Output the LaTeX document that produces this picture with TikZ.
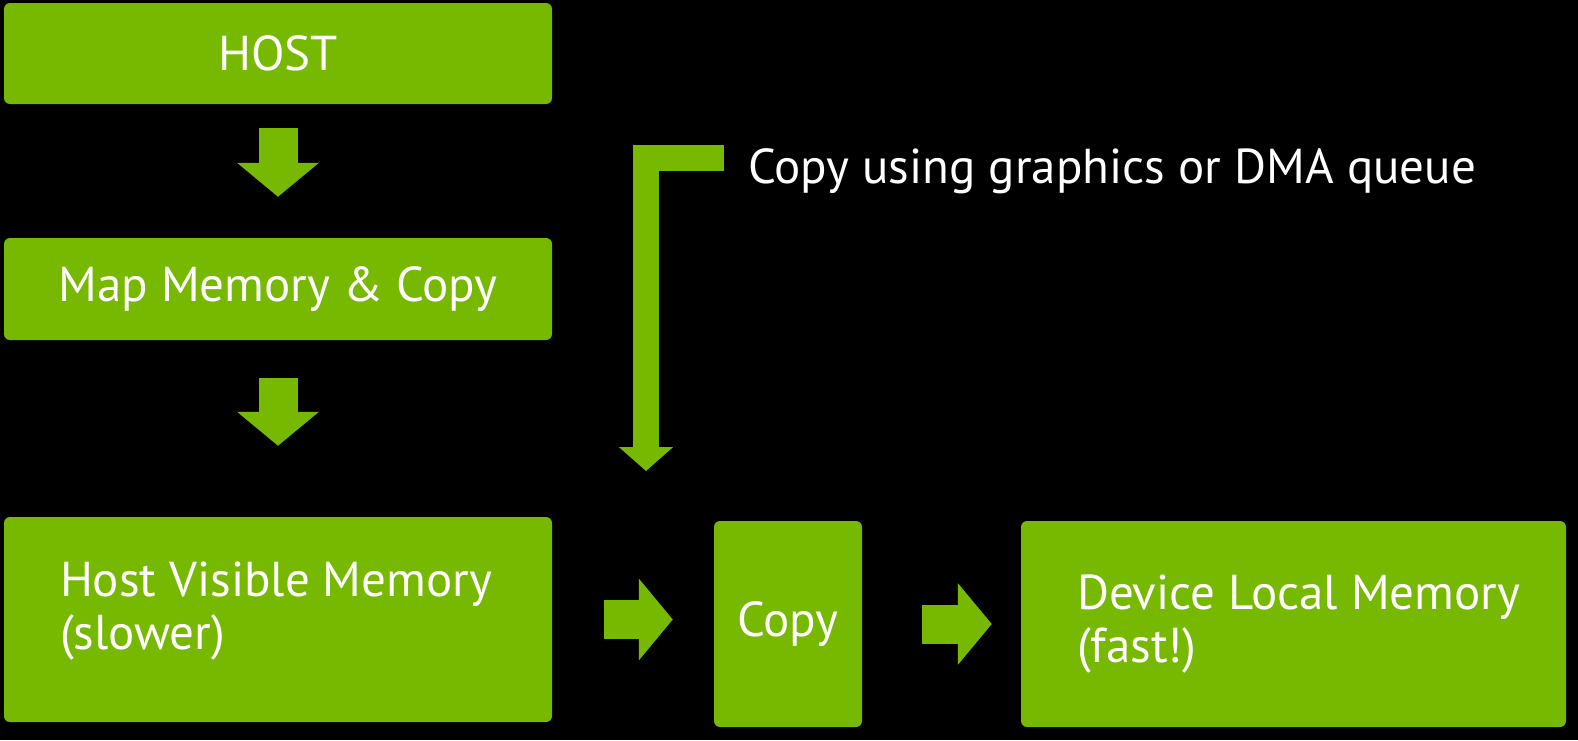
\documentclass[tikz,border=0pt]{standalone}
\usepackage{fontspec}
\setmainfont{PT Sans}
\usetikzlibrary{positioning,arrows.meta}
\definecolor{nvgreen}{HTML}{76B900}

\begin{document}
\begin{tikzpicture}[x=1pt,y=-1pt,
  box/.style={fill=nvgreen,rounded corners=6pt,text=white,font=\fontsize{49}{53}\selectfont,inner sep=0pt},
  boxtext/.style={text=white,font=\fontsize{49}{53}\selectfont,align=left,inner sep=0pt,anchor=west,xshift=56pt},
  fatarrow/.style={nvgreen,line width=39pt,-{Triangle[length=34pt,width=80pt]}},
  thinarrow/.style={nvgreen,line width=26pt,line join=miter,-{Triangle[length=24pt,width=53pt]}}]
\useasboundingbox (0,0) rectangle (1578,740);
\fill[black] (0,0) rectangle (1578,740);
\path (278,53.5) node[box,minimum width=548pt,minimum height=101pt] (host) {HOST}
(278,289) node[box,minimum width=548pt,minimum height=102pt] (map) {Map Memory \& Copy}
(278,619.5) node[box,minimum width=548pt,minimum height=205pt,
  label={[boxtext,yshift=8pt]west:Host Visible Memory\\(slower)}] (hvm) {}
(788,624) node[box,minimum width=148pt,minimum height=206pt] (copy) {Copy}
(1293.5,624) node[box,minimum width=545pt,minimum height=206pt,
  label={[boxtext]west:Device Local Memory\\(fast!)}] (dlm) {}
(748,183) node[anchor=base west,text=white,font=\fontsize{49}{53}\selectfont,inner sep=0pt] (query) {Copy using graphics or DMA queue};
\coordinate (qend) at (646,471);
% block arrows between the boxes
\draw[fatarrow] ([yshift=-24pt]host.south) -- ([yshift=41pt]map.north);
\draw[fatarrow] ([yshift=-38pt]map.south) -- ([yshift=71pt]hvm.north);
\draw[fatarrow] ([xshift=52pt]hvm.east) -- ([xshift=-41pt]copy.west |- hvm.east);
\draw[fatarrow] ([xshift=60pt]copy.east) -- ([xshift=-29pt]dlm.west);
\draw[thinarrow] ([xshift=-24pt,yshift=13pt]query.west) -| (qend);
\end{tikzpicture}
\end{document}
